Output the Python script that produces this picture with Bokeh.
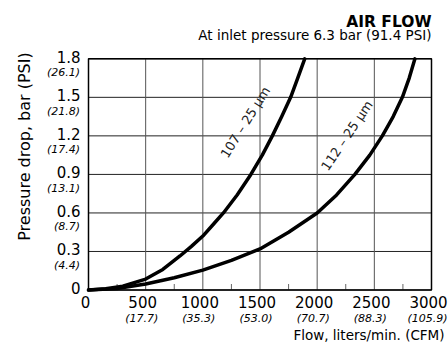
from bokeh.plotting import figure
from bokeh.models import Range1d
from bokeh.core.properties import value
from bokeh.embed import file_html
from bokeh.resources import INLINE

# ---- data ----
flow_107 = [0, 150, 300, 500, 650, 800, 900, 1000, 1100, 1180, 1300, 1420, 1520, 1608, 1690, 1768, 1830, 1891]
drop_107 = [0, 0.01, 0.03, 0.085, 0.16, 0.265, 0.34, 0.42, 0.52, 0.6, 0.74, 0.9, 1.05, 1.2, 1.35, 1.5, 1.65, 1.8]

flow_112 = [0, 250, 500, 750, 1000, 1250, 1500, 1750, 2000, 2170, 2330, 2460, 2570, 2665, 2745, 2805, 2855]
drop_112 = [0, 0.012, 0.047, 0.095, 0.155, 0.23, 0.32, 0.45, 0.6, 0.74, 0.9, 1.05, 1.2, 1.35, 1.5, 1.65, 1.8]

flow_ticks = [0, 500, 1000, 1500, 2000, 2500, 3000]
flow_labels = ["0", "500", "1000", "1500", "2000", "2500", "3000"]
cfm_labels = ["", "(17.7)", "(35.3)", "(53.0)", "(70.7)", "(88.3)", "(105.9)"]
flow_minor = [250, 750, 1250, 1750, 2250, 2750]

bar_ticks = [0, 0.3, 0.6, 0.9, 1.2, 1.5, 1.8]
bar_labels = ["0", "0.3", "0.6", "0.9", "1.2", "1.5", "1.8"]
psi_labels = ["", "(4.4)", "(8.7)", "(13.1)", "(17.4)", "(21.8)", "(26.1)"]

curve_names = ["107 \u2013 25 \u00b5m", "112 \u2013 25 \u00b5m"]
curve_label_x = [1372, 2261]
curve_label_y = [1.306, 1.203]

title = "AIR FLOW"
subtitle = "At inlet pressure 6.3 bar (91.4 PSI)"
x_title = "Flow, liters/min. (CFM)"
y_title = "Pressure drop, bar (PSI)"

FONT = value("DejaVu Sans")

x0, x1 = flow_ticks[0], flow_ticks[-1]
y0, y1 = bar_ticks[0], bar_ticks[-1]

# plot area spans the whole canvas; data box is drawn inside it
p = figure(width=448, height=345,
           x_range=Range1d(-769.7, 3148.7), y_range=Range1d(-0.4321, 2.254),
           x_axis_location=None, y_axis_location=None,
           output_backend="svg", toolbar_location=None,
           min_border=0)
p.grid.visible = False
p.outline_line_color = None
p.background_fill_color = "white"
p.border_fill_color = "white"

# grid lines
p.segment(x0=[x0] * len(bar_ticks), y0=bar_ticks, x1=[x1] * len(bar_ticks), y1=bar_ticks,
          line_color="#222222", line_width=1)
p.segment(x0=flow_ticks, y0=[y0] * len(flow_ticks), x1=flow_ticks, y1=[y1] * len(flow_ticks),
          line_color="#555555", line_width=1)
# minor ticks (inward from bottom)
p.ray(x=flow_minor, y=[y0] * len(flow_minor), length=6, length_units="screen",
      angle=90, angle_units="deg", line_color="#666666", line_width=1)
# frame
p.quad(left=[x0], right=[x1], bottom=[y0], top=[y1], fill_color=None,
       line_color="black", line_width=1.5)

# curves
p.line(flow_107, drop_107, line_color="black", line_width=3.5, line_join="round", line_cap="round")
p.line(flow_112, drop_112, line_color="black", line_width=3.5, line_join="round", line_cap="round")

# curve labels
for name, cx, cy, ang in zip(curve_names, curve_label_x, curve_label_y, [58, 56]):
    p.text(x=[cx], y=[cy], text=[name], angle=ang, angle_units="deg",
           text_align="center", text_baseline="middle",
           text_font=FONT, text_font_size="13px", text_color="#222222")

# y tick labels
p.text(x=[x0] * len(bar_ticks), y=bar_ticks, text=bar_labels, x_offset=-8, y_offset=-2,
       text_align="right", text_baseline="middle",
       text_font=FONT, text_font_size="15px", text_color="black")
p.text(x=[x0] * (len(bar_ticks) - 1), y=bar_ticks[1:], text=psi_labels[1:], x_offset=-8.5, y_offset=14,
       text_align="right", text_baseline="middle",
       text_font=FONT, text_font_style="italic", text_font_size="11px", text_color="black")

# x tick labels
p.text(x=flow_ticks, y=[y0] * len(flow_ticks), text=flow_labels, x_offset=-3, y_offset=11.5,
       text_align="center", text_baseline="middle",
       text_font=FONT, text_font_size="15px", text_color="black")
p.text(x=flow_ticks[1:], y=[y0] * (len(flow_ticks) - 1), text=cfm_labels[1:], x_offset=-4, y_offset=28,
       text_align="center", text_baseline="middle",
       text_font=FONT, text_font_style="italic", text_font_size="11px", text_color="black")

# titles
p.text(x=[x1], y=[y1], text=[title], y_offset=-37,
       text_align="right", text_baseline="alphabetic",
       text_font=FONT, text_font_style="bold", text_font_size="15.5px", text_color="black")
p.text(x=[x1], y=[y1], text=[subtitle], y_offset=-24,
       text_align="right", text_baseline="alphabetic",
       text_font=FONT, text_font_size="13.5px", text_color="black")
p.text(x=[x1], y=[y0], text=[x_title], x_offset=13, y_offset=45,
       text_align="right", text_baseline="alphabetic",
       text_font=FONT, text_font_size="13.5px", text_color="black")
p.text(x=[x0], y=[1.117], text=[y_title], x_offset=-64, angle=90, angle_units="deg",
       text_align="center", text_baseline="middle",
       text_font=FONT, text_font_size="16px", text_color="black")

open("out.html", "w").write(file_html(p, INLINE))
